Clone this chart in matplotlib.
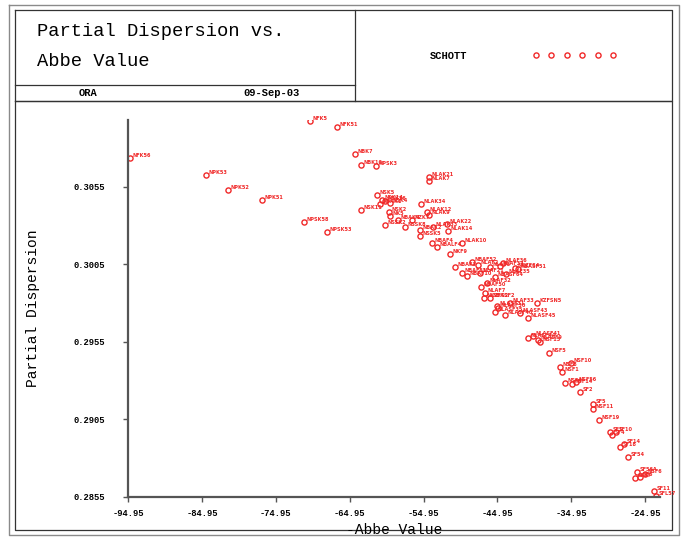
import matplotlib
matplotlib.use('Agg')
import matplotlib.pyplot as plt
from matplotlib.lines import Line2D

# glass name, -Abbe value, partial dispersion
glasses = ['NFK56', 'NPK53', 'NPK52', 'NPK51', 'NFK5', 'NFK51', 'NPSK58', 'NPSK53',
           'NBK7', 'NBK10', 'NPSK3', 'NSK11', 'NSK5', 'NSK14', 'NSK16', 'NSK4',
           'NBAK1', 'NSK2', 'NK5', 'NBAK4', 'NZK7', 'NSSK2', 'NLAK21', 'NLAK7',
           'NLAK34', 'NLAK12', 'NLAK9', 'NSSK8', 'NBAK2', 'NSSK5', 'NLAK33', 'NLAK22',
           'NLAK14', 'NBAF4', 'NBALF4', 'NLAK10', 'NKF9', 'NBAF3', 'NBAF51', 'NBAF10',
           'NLAF21', 'NLAF3', 'NLAF34', 'NLAF2', 'NBAF52', 'NLAF32', 'NBASF64', 'NLAF35',
           'NKZFS4', 'NBAF50', 'NLAF7', 'NKZFS2', 'NBASF2', 'NLASF31', 'NLASF35', 'NLAF33',
           'NLASF40', 'NLASF43', 'KZFSN5', 'NLASF44', 'NLASF41', 'NLASF9', 'NSF5', 'NSF15',
           'NSF8', 'NSF1', 'NSF10', 'NSF4', 'NSF14', 'NSF56', 'SF2', 'SF5',
           'NSF11', 'NSF19', 'SF1', 'SF4', 'SF10', 'SF18', 'SF14', 'SF54',
           'SF56A', 'SF6', 'SF57', 'NSF6', 'SF11', 'SFL57', 'NLAF36', 'NBASF51',
           'NLASF30', 'NLASF45']

abbe = [-94.68, -84.40, -81.42, -76.82, -70.32, -66.67, -71.13, -68.02,
        -64.23, -63.42, -61.39, -63.42, -61.26, -60.58, -60.17, -59.50,
        -60.85, -59.63, -59.50, -58.41, -56.52, -60.17, -54.22, -54.22,
        -55.30, -54.49, -54.22, -57.47, -55.44, -55.44, -53.68, -51.78,
        -51.65, -53.81, -53.13, -49.75, -51.38, -50.70, -49.75, -49.08,
        -47.32, -45.96, -44.61, -47.59, -48.40, -46.37, -45.29, -43.80,
        -42.58, -47.18, -46.64, -46.78, -45.96, -45.02, -45.29, -43.26,
        -43.93, -41.90, -39.60, -40.82, -40.14, -39.47, -37.98, -39.20,
        -36.49, -36.22, -35.00, -35.82, -34.87, -34.33, -33.79, -32.03,
        -32.03, -31.21, -29.73, -29.46, -28.91, -28.37, -27.83, -27.29,
        -26.07, -25.67, -26.34, -24.99, -23.77, -23.50, -44.20, -42.18,
        -44.88, -40.82]

pdisp = [0.30737, 0.30627, 0.30530, 0.30466, 0.30975, 0.30937, 0.30324, 0.30259,
         0.30762, 0.30691, 0.30685, 0.30403, 0.30500, 0.30467, 0.30461, 0.30448,
         0.30441, 0.30390, 0.30364, 0.30338, 0.30338, 0.30306, 0.30614, 0.30588,
         0.30441, 0.30390, 0.30370, 0.30292, 0.30272, 0.30233, 0.30292, 0.30311,
         0.30266, 0.30188, 0.30163, 0.30188, 0.30117, 0.30034, 0.29995, 0.29975,
         0.29995, 0.30034, 0.30040, 0.30046, 0.30066, 0.29930, 0.29969, 0.29988,
         0.30027, 0.29905, 0.29866, 0.29834, 0.29834, 0.29782, 0.29743, 0.29801,
         0.29724, 0.29737, 0.29801, 0.29576, 0.29588, 0.29563, 0.29479, 0.29550,
         0.29389, 0.29356, 0.29414, 0.29285, 0.29279, 0.29292, 0.29227, 0.29150,
         0.29118, 0.29047, 0.28969, 0.28950, 0.28969, 0.28873, 0.28892, 0.28808,
         0.28711, 0.28679, 0.28673, 0.28698, 0.28589, 0.28556, 0.30059, 0.30021,
         0.29769, 0.29705]

xticks = [-94.95, -84.95, -74.95, -64.95, -54.95, -44.95, -34.95, -24.95]
yticks = [0.2855, 0.2905, 0.2955, 0.3005, 0.3055]

RED = '#f02828'
MONO = 'Liberation Mono'

fig = plt.figure(figsize=(6.86, 5.4), dpi=100)

# page frame and header boxes, drawn in pixel units
frame = fig.add_axes([0, 0, 1, 1], zorder=0)
frame.set_xlim(0, 686)
frame.set_ylim(540, 0)
frame.axis('off')

def box(x0, y0, x1, y1, **kw):
    frame.add_line(Line2D([x0, x1, x1, x0, x0], [y0, y0, y1, y1, y0], **kw))

box(9, 5, 679, 535, color='#8a8a8a', lw=1.0)
box(15, 10, 672, 101, color='#333333', lw=0.9)
box(15, 101, 672, 530, color='#333333', lw=0.9)
frame.add_line(Line2D([355, 355], [10, 101], color='#333333', lw=0.9))
frame.add_line(Line2D([15, 355], [85, 85], color='#333333', lw=0.9))

frame.text(37, 32, 'Partial Dispersion vs.', family=MONO, fontsize=13.5, va='center')
frame.text(37, 62, 'Abbe Value', family=MONO, fontsize=13.5, va='center')
frame.text(88, 93, 'ORA', family=MONO, fontsize=7.5, weight='bold', ha='center', va='center')
frame.text(272, 93, '09-Sep-03', family=MONO, fontsize=7.5, weight='bold', ha='center', va='center')

# scatter plot
ax = fig.add_axes([128 / 686, 1 - 497 / 540, 532 / 686, 377 / 540], zorder=1)
ax.patch.set_alpha(0)
pts, = ax.plot(abbe, pdisp, 'o', ms=3.7, mfc='none', mec=RED, mew=1.0, label='SCHOTT')
for name, x, y in zip(glasses, abbe, pdisp):
    ax.annotate(name, (x, y), xytext=(2.0, 0.8), textcoords='offset points',
                fontsize=3.6, color=RED, family='DejaVu Sans', weight='bold')

ax.set_xlim(-94.95, -22.96)
ax.set_ylim(0.2855, 0.30982)
ax.set_xticks(xticks)
ax.set_xticklabels([f'{t:.2f}' for t in xticks])
ax.set_yticks(yticks)
ax.set_yticklabels([f'{t:.4f}' for t in yticks])
for s in ['top', 'right']:
    ax.spines[s].set_visible(False)
for s in ['left', 'bottom']:
    ax.spines[s].set_color('#555555')
    ax.spines[s].set_linewidth(1.6)
ax.tick_params(axis='x', length=3.5, width=1, color='#555555', pad=5, labelsize=6.3)
ax.tick_params(axis='y', length=3.5, width=1, color='#555555', pad=13, labelsize=6.3)
for lab in ax.get_xticklabels() + ax.get_yticklabels():
    lab.set_family(MONO)
    lab.set_weight('bold')
ax.set_xlabel('-Abbe Value', family=MONO, fontsize=10.5, labelpad=4)
ax.set_ylabel('Partial Dispersion', family=MONO, fontsize=10.5, labelpad=24)

fig.legend(handles=[pts], loc='center', bbox_to_anchor=(523 / 686, 1 - 56 / 540),
           numpoints=6, markerfirst=False, frameon=False, handlelength=8.0,
           handletextpad=6.3, prop={'family': MONO, 'weight': 'bold', 'size': 7.5})

fig.savefig('out.png', dpi=100)
